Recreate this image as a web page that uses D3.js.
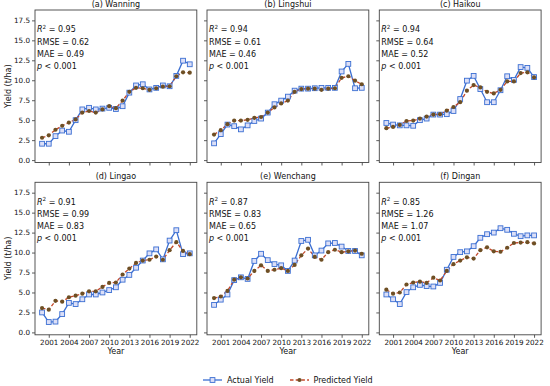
<!DOCTYPE html>
<html><head><meta charset="utf-8">
<script src="https://cdn.jsdelivr.net/npm/d3@7"></script>
<style>body{margin:0;background:#fff}svg{display:block}text{font-family:"DejaVu Sans",sans-serif;fill:#111}</style>
</head><body><svg id="c" width="550" height="386"></svg>
<script>
const years = d3.range(2000, 2023);
const xTicks = [2001, 2004, 2007, 2010, 2013, 2016, 2019, 2022];
const yTicks = [0, 2.5, 5, 7.5, 10, 12.5, 15, 17.5];
const titles = ["(a) Wanning", "(b) Lingshui", "(c) Haikou", "(d) Lingao", "(e) Wenchang", "(f) Dingan"];
const r2 = ["0.95", "0.94", "0.94", "0.91", "0.87", "0.85"];
const rmse = ["0.62", "0.61", "0.64", "0.99", "0.83", "1.26"];
const mae = ["0.49", "0.46", "0.52", "0.83", "0.65", "1.07"];

const actualWanning = [2.05,2.05,3.0,3.7,3.55,5.0,6.35,6.55,6.35,6.45,6.55,6.4,6.75,8.45,9.35,9.5,8.85,9.05,9.35,9.25,10.55,12.45,12.0];
const predWanning   = [2.8,3.1,3.8,4.3,4.7,5.1,5.95,6.15,5.95,6.35,6.75,6.5,7.45,8.55,9.05,9.0,8.8,9.0,9.2,9.25,10.5,11.0,10.95];
const actualLingshui = [2.1,3.25,4.45,4.25,3.85,4.35,4.9,5.2,5.95,7.0,7.45,7.95,8.7,8.95,8.95,9.0,9.05,9.05,9.05,11.1,12.05,9.0,9.05];
const predLingshui   = [3.2,3.75,4.5,4.95,4.95,5.05,5.3,5.4,5.95,6.6,7.1,7.45,8.55,8.9,8.95,8.95,8.8,8.95,9.0,10.3,10.5,9.95,9.5];
const actualHaikou = [4.65,4.45,4.35,4.35,4.3,5.0,5.2,5.7,5.7,5.75,6.15,7.65,9.95,10.55,8.9,7.25,7.25,8.75,10.5,10.05,11.65,11.55,10.4];
const predHaikou   = [4.0,4.15,4.4,4.9,4.95,5.2,5.45,5.7,5.75,6.2,6.65,7.25,8.7,9.4,9.1,8.55,8.35,8.8,9.85,9.85,10.9,11.0,10.35];
const actualLingao = [2.5,1.3,1.35,2.3,3.7,3.55,4.15,4.75,4.75,5.0,5.3,5.65,6.6,7.2,8.1,9.0,9.9,10.4,9.15,11.5,12.8,9.8,9.9];
const predLingao   = [3.05,2.85,3.95,3.85,4.4,4.6,4.85,5.15,5.15,5.7,6.2,6.25,7.25,8.0,8.7,9.0,9.1,9.5,9.1,10.3,11.3,10.2,9.8];
const actualWenchang = [3.45,4.1,4.75,6.55,6.9,6.7,8.95,9.85,9.05,8.55,8.4,7.7,9.0,11.45,11.6,9.65,10.25,11.15,11.2,10.75,10.2,10.2,9.65];
const predWenchang   = [4.3,4.5,5.2,6.6,6.9,6.75,7.7,8.4,7.7,7.85,8.05,7.7,8.45,9.65,10.5,9.45,9.1,10.05,10.35,10.05,10.15,10.25,9.85];
const actualDingan = [4.75,4.15,3.55,5.05,5.65,5.95,5.8,5.75,6.2,7.85,9.45,10.05,10.15,10.8,11.85,12.3,12.5,13.05,12.85,12.35,12.05,12.15,12.15];
const predDingan   = [5.35,4.85,5.0,6.0,6.25,6.35,6.2,6.85,6.5,7.7,8.55,9.0,9.4,9.25,10.3,10.65,10.15,10.1,10.6,11.2,11.25,11.3,11.15];

const actualAll = [actualWanning, actualLingshui, actualHaikou, actualLingao, actualWenchang, actualDingan];
const predAll = [predWanning, predLingshui, predHaikou, predLingao, predWenchang, predDingan];

const BLUE = "#3a6ed2", SQFILL = "#dcdff7", RED = "#c4482a", DOT = "#6e4f24";
const svg = d3.select("#c");
const lefts = [35, 207, 379.3], tops = [10, 182.3];
const W = 161.8, H = 152.5;
const FS = 8, TFS = 7.2;

titles.forEach((t, i) => {
  const col = i % 3, row = Math.floor(i / 3);
  const g = svg.append("g").attr("transform", `translate(${lefts[col]},${tops[row]})`);
  const x = d3.scaleLinear().domain([1998.95, 2023.05]).range([0, W]);
  const y = d3.scaleLinear().domain([-0.3, 18.8]).range([H, 0]);

  const ya = g.append("g").call(d3.axisLeft(y).tickValues(yTicks).tickSize(3).tickPadding(2)
    .tickFormat(col === 0 ? d3.format(".1f") : () => ""));
  const xa = g.append("g").attr("transform", `translate(0,${H})`)
    .call(d3.axisBottom(x).tickValues(xTicks).tickSize(3).tickPadding(1.8)
    .tickFormat(row === 1 ? d3.format("d") : () => ""));
  [ya, xa].forEach(a => {
    a.select(".domain").remove();
    a.selectAll("line").attr("stroke", "#333").attr("stroke-width", 0.8);
    a.selectAll("text").style("font-size", TFS + "px").attr("fill", "#111");
  });
  g.append("rect").attr("width", W).attr("height", H).attr("fill", "none")
    .attr("stroke", "#444").attr("stroke-width", 0.9);

  g.append("text").attr("x", W / 2).attr("y", -3).attr("text-anchor", "middle")
    .style("font-size", FS + "px").text(t);

  const act = actualAll[i], pr = predAll[i];
  const line = d3.line().x((d, k) => x(years[k])).y(d => y(d));
  g.append("path").datum(act).attr("d", line).attr("fill", "none")
    .attr("stroke", BLUE).attr("stroke-width", 1.3);
  g.append("path").datum(pr).attr("d", line).attr("fill", "none")
    .attr("stroke", RED).attr("stroke-width", 1.3).attr("stroke-dasharray", "3.5,2.2");
  g.selectAll(".sq").data(act).join("rect")
    .attr("x", (d, k) => x(years[k]) - 2.4).attr("y", d => y(d) - 2.4)
    .attr("width", 4.8).attr("height", 4.8)
    .attr("fill", SQFILL).attr("stroke", BLUE).attr("stroke-width", 0.9);
  g.selectAll(".dt").data(pr).join("circle")
    .attr("cx", (d, k) => x(years[k])).attr("cy", d => y(d)).attr("r", 2.1)
    .attr("fill", DOT);

  const tx = 2, ty0 = 22.3, dy = 12.2;
  const l1 = g.append("text").attr("x", tx).attr("y", ty0).style("font-size", FS + "px");
  l1.append("tspan").attr("font-style", "italic").text("R");
  l1.append("tspan").attr("dy", -3.2).style("font-size", "5.6px").text("2");
  l1.append("tspan").attr("dy", 3.2).text(" = " + r2[i]);
  g.append("text").attr("x", tx).attr("y", ty0 + dy).style("font-size", FS + "px").text("RMSE = " + rmse[i]);
  g.append("text").attr("x", tx).attr("y", ty0 + 2 * dy).style("font-size", FS + "px").text("MAE = " + mae[i]);
  const l4 = g.append("text").attr("x", tx).attr("y", ty0 + 3 * dy).style("font-size", FS + "px");
  l4.append("tspan").attr("font-style", "italic").text("p");
  l4.append("tspan").text(" < 0.001");

  if (col === 0) {
    svg.append("text").attr("transform", `translate(11,${tops[row] + H / 2}) rotate(-90)`)
      .attr("text-anchor", "middle").style("font-size", FS + "px").text("Yield (t/ha)");
  }
  if (row === 1) {
    g.append("text").attr("x", W / 2).attr("y", H + 19.5).attr("text-anchor", "middle")
      .style("font-size", FS + "px").text("Year");
  }
});

// legend
const lg = svg.append("g").attr("transform", "translate(0,380)");
lg.append("line").attr("x1", 203).attr("x2", 222).attr("y1", 0).attr("y2", 0)
  .attr("stroke", BLUE).attr("stroke-width", 1.3);
lg.append("rect").attr("x", 212.5 - 2.4).attr("y", -2.4).attr("width", 4.8).attr("height", 4.8)
  .attr("fill", SQFILL).attr("stroke", BLUE).attr("stroke-width", 0.9);
lg.append("text").attr("x", 227).attr("y", 3).style("font-size", FS + "px").text("Actual Yield");
lg.append("line").attr("x1", 290).attr("x2", 309).attr("y1", 0).attr("y2", 0)
  .attr("stroke", RED).attr("stroke-width", 1.3).attr("stroke-dasharray", "3.5,2.2");
lg.append("circle").attr("cx", 299.5).attr("cy", 0).attr("r", 2.1).attr("fill", DOT);
lg.append("text").attr("x", 313.5).attr("y", 3).style("font-size", FS + "px").text("Predicted Yield");
</script></body></html>
